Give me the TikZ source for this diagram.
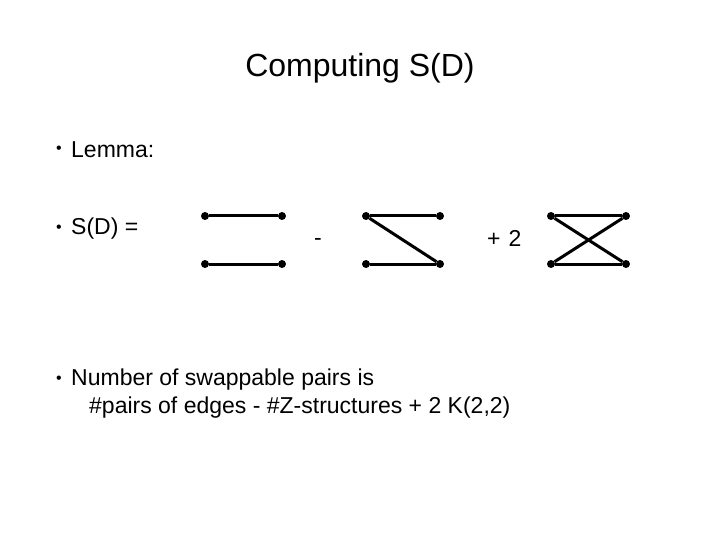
\documentclass[tikz,border=0pt]{standalone}
\usepackage{fontspec}
\setmainfont{Liberation Sans}
\begin{document}
\begin{tikzpicture}[x=1pt,y=-1pt,
  dot/.style={circle,fill=black,inner sep=0pt,minimum size=8pt},
  edge/.style={line width=3pt},
  txt/.style={anchor=west,inner sep=0pt,font=\fontsize{23}{28}\selectfont},
  bul/.style={anchor=center,inner sep=0pt,font=\fontsize{16}{20}\selectfont}]
\useasboundingbox (0,0) rectangle (720,540);
\node (title) at (360,68) {\fontsize{32}{38}\selectfont Computing S(D)};
\node[bul] (d1) at (59,150) {•};
\node[txt] (b1) at (71,150) {Lemma:};
\node[bul] (d2) at (59,229) {•};
\node[txt] (b2) at (71,229) {S(D) =};
\node[txt] (minus) at (314,242) {-};
\node[txt] (plus) at (487,238) {+\hspace{8pt}2};
\node[bul] (d3) at (59,380) {•};
\node[txt] (b3) at (71,380) {Number of swappable pairs is};
\node[txt] (b4) at (89,408) {\#pairs of edges - \#Z-structures + 2 K(2,2)};
\node[dot] (a1) at (205,216) {}; \node[dot] (a2) at (282,216) {};
\node[dot] (a3) at (205,264) {}; \node[dot] (a4) at (282,264) {};
\draw[edge] (a1)--(a2); \draw[edge] (a3)--(a4);
\node[dot] (b1d) at (366,216) {}; \node[dot] (b2d) at (440,216) {};
\node[dot] (b3d) at (366,264) {}; \node[dot] (b4d) at (440,264) {};
\draw[edge] (b1d)--(b2d); \draw[edge] (b3d)--(b4d); \draw[edge] (b1d)--(b4d);
\node[dot] (c1) at (551,216) {}; \node[dot] (c2) at (626,216) {};
\node[dot] (c3) at (551,264) {}; \node[dot] (c4) at (626,264) {};
\draw[edge] (c1)--(c2); \draw[edge] (c3)--(c4); \draw[edge] (c1)--(c4); \draw[edge] (c2)--(c3);
\end{tikzpicture}
\end{document}
